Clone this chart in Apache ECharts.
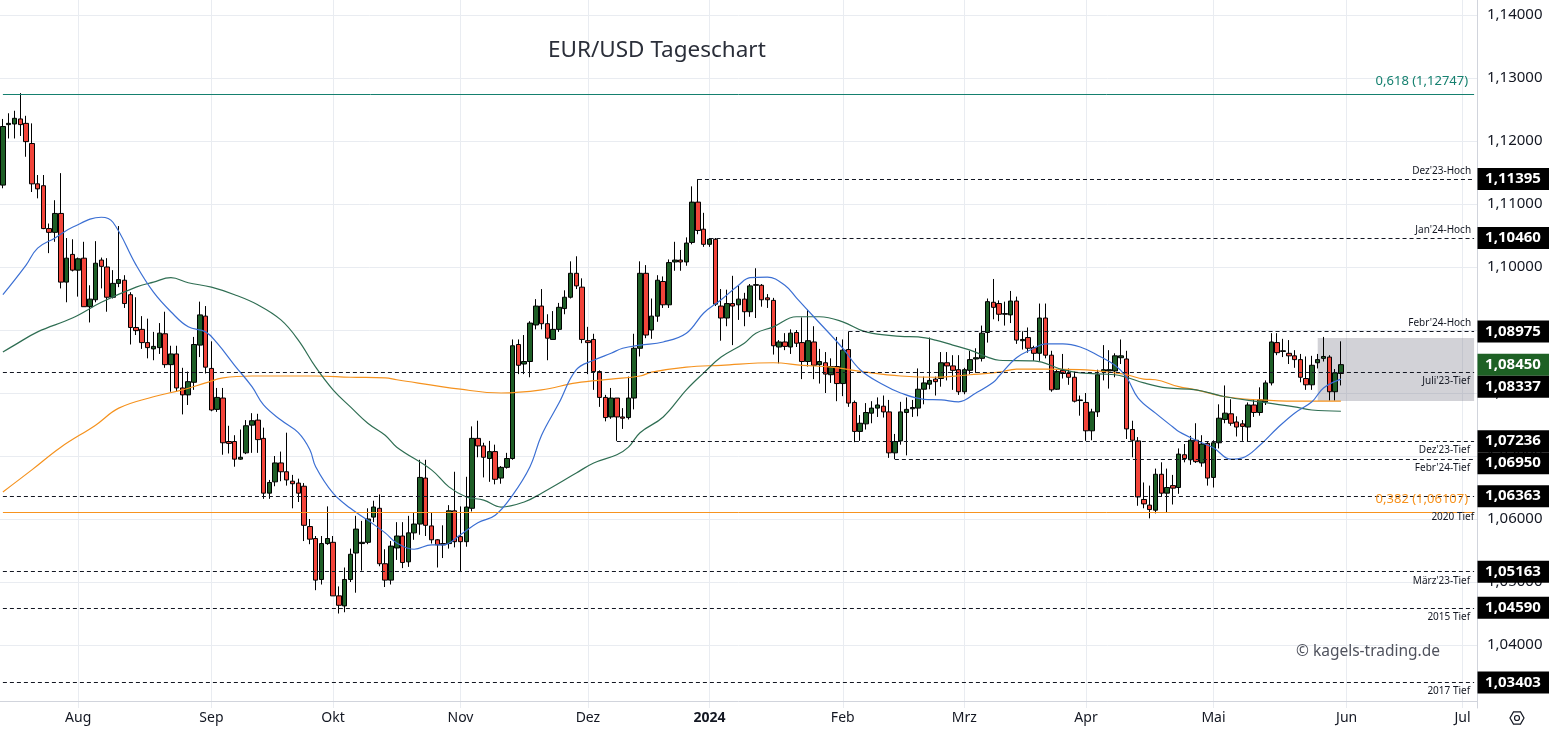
<!DOCTYPE html>
<html><head><meta charset="utf-8">
<script src="https://cdn.jsdelivr.net/npm/echarts@6/dist/echarts.min.js"></script>
<style>html,body{margin:0;padding:0;background:#fff}#c{width:1549px;height:734px}</style>
</head><body><div id="c"></div>
<script>
// ---------- DATA ----------
// [date, open, high, low, close]
const ohlc = [
['2023-07-13',1.1130,1.1235,1.1125,1.1223],['2023-07-14',1.1226,1.1244,1.1204,1.1228],['2023-07-17',1.1227,1.1248,1.1204,1.1236],
['2023-07-18',1.1235,1.1276,1.1208,1.1226],['2023-07-19',1.1228,1.1240,1.1175,1.1199],['2023-07-20',1.1196,1.1228,1.1119,1.1132],
['2023-07-21',1.1132,1.1146,1.1109,1.1124],['2023-07-24',1.1129,1.1146,1.1060,1.1061],['2023-07-25',1.1061,1.1069,1.1022,1.1055],
['2023-07-26',1.1055,1.1106,1.1040,1.1085],['2023-07-27',1.1085,1.1149,1.0966,1.0976],['2023-07-28',1.0976,1.1046,1.0944,1.1014],
['2023-07-31',1.1020,1.1044,1.0993,1.0995],['2023-08-01',1.0995,1.1015,1.0953,1.1013],['2023-08-02',1.1014,1.1040,1.0937,1.0937],
['2023-08-03',1.0937,1.0971,1.0912,1.0949],['2023-08-04',1.0948,1.1041,1.0944,1.1006],['2023-08-07',1.1011,1.1015,1.0966,1.1001],
['2023-08-08',1.1000,1.1014,1.0929,1.0952],['2023-08-09',1.0952,1.0995,1.0950,1.0974],['2023-08-10',1.0974,1.1065,1.0968,1.0980],
['2023-08-11',1.0979,1.0987,1.0935,1.0942],['2023-08-14',1.0956,1.0960,1.0877,1.0904],['2023-08-15',1.0904,1.0952,1.0892,1.0899],
['2023-08-16',1.0901,1.0922,1.0870,1.0880],['2023-08-17',1.0880,1.0918,1.0855,1.0872],['2023-08-18',1.0870,1.0897,1.0852,1.0874],
['2023-08-21',1.0872,1.0911,1.0862,1.0895],['2023-08-22',1.0894,1.0929,1.0840,1.0845],['2023-08-23',1.0845,1.0875,1.0802,1.0862],
['2023-08-24',1.0862,1.0875,1.0803,1.0808],['2023-08-25',1.0808,1.0840,1.0766,1.0797],['2023-08-28',1.0797,1.0834,1.0781,1.0818],
['2023-08-29',1.0817,1.0889,1.0805,1.0877],['2023-08-30',1.0876,1.0945,1.0857,1.0924],['2023-08-31',1.0922,1.0938,1.0831,1.0841],
['2023-09-01',1.0839,1.0882,1.0771,1.0773],['2023-09-04',1.0774,1.0808,1.0770,1.0793],['2023-09-05',1.0792,1.0808,1.0702,1.0721],
['2023-09-06',1.0723,1.0748,1.0704,1.0720],['2023-09-07',1.0723,1.0733,1.0683,1.0695],['2023-09-08',1.0695,1.0742,1.0694,1.0698],
['2023-09-11',1.0705,1.0757,1.0703,1.0748],['2023-09-12',1.0749,1.0768,1.0705,1.0756],['2023-09-13',1.0757,1.0767,1.0705,1.0726],
['2023-09-14',1.0728,1.0745,1.0632,1.0641],['2023-09-15',1.0641,1.0662,1.0632,1.0658],['2023-09-18',1.0659,1.0700,1.0652,1.0689],
['2023-09-19',1.0689,1.0707,1.0660,1.0675],['2023-09-20',1.0675,1.0737,1.0653,1.0662],['2023-09-21',1.0660,1.0670,1.0617,1.0656],
['2023-09-22',1.0657,1.0664,1.0627,1.0641],['2023-09-25',1.0652,1.0657,1.0565,1.0590],['2023-09-26',1.0588,1.0600,1.0560,1.0568],
['2023-09-27',1.0569,1.0573,1.0487,1.0503],['2023-09-28',1.0504,1.0573,1.0496,1.0561],['2023-09-29',1.0561,1.0620,1.0559,1.0569],
['2023-10-02',1.0563,1.0573,1.0478,1.0478],['2023-10-03',1.0478,1.0493,1.0450,1.0463],['2023-10-04',1.0462,1.0523,1.0452,1.0504],
['2023-10-05',1.0504,1.0553,1.0500,1.0544],['2023-10-06',1.0546,1.0605,1.0483,1.0584],['2023-10-09',1.0561,1.0597,1.0518,1.0563],
['2023-10-10',1.0563,1.0617,1.0560,1.0600],['2023-10-11',1.0603,1.0629,1.0595,1.0619],['2023-10-12',1.0617,1.0639,1.0525,1.0529],
['2023-10-13',1.0529,1.0552,1.0492,1.0503],['2023-10-16',1.0503,1.0565,1.0496,1.0557],['2023-10-17',1.0554,1.0595,1.0535,1.0573],
['2023-10-18',1.0573,1.0595,1.0522,1.0531],['2023-10-19',1.0532,1.0605,1.0524,1.0578],['2023-10-20',1.0578,1.0610,1.0567,1.0592],
['2023-10-23',1.0592,1.0694,1.0575,1.0666],['2023-10-24',1.0665,1.0694,1.0573,1.0590],['2023-10-25',1.0589,1.0610,1.0561,1.0567],
['2023-10-26',1.0567,1.0568,1.0523,1.0559],['2023-10-27',1.0561,1.0590,1.0538,1.0559],['2023-10-30',1.0561,1.0622,1.0553,1.0613],
['2023-10-31',1.0613,1.0675,1.0555,1.0564],['2023-11-01',1.0572,1.0620,1.0516,1.0564],['2023-11-02',1.0564,1.0667,1.0556,1.0619],
['2023-11-03',1.0617,1.0747,1.0612,1.0728],['2023-11-06',1.0728,1.0756,1.0698,1.0716],['2023-11-07',1.0716,1.0721,1.0666,1.0698],
['2023-11-08',1.0696,1.0724,1.0659,1.0707],['2023-11-09',1.0707,1.0718,1.0655,1.0663],['2023-11-10',1.0665,1.0684,1.0656,1.0682],
['2023-11-13',1.0682,1.0705,1.0680,1.0696],['2023-11-14',1.0696,1.0885,1.0694,1.0875],['2023-11-15',1.0877,1.0885,1.0830,1.0844],
['2023-11-16',1.0846,1.0892,1.0830,1.0850],['2023-11-17',1.0850,1.0914,1.0825,1.0911],['2023-11-20',1.0908,1.0949,1.0901,1.0938],
['2023-11-21',1.0938,1.0965,1.0901,1.0910],['2023-11-22',1.0910,1.0925,1.0852,1.0887],['2023-11-23',1.0885,1.0930,1.0885,1.0901],
['2023-11-24',1.0901,1.0943,1.0897,1.0936],['2023-11-27',1.0934,1.0963,1.0925,1.0952],['2023-11-28',1.0952,1.1009,1.0950,1.0990],
['2023-11-29',1.0990,1.1017,1.0965,1.0970],['2023-11-30',1.0968,1.0982,1.0879,1.0885],['2023-12-01',1.0883,1.0905,1.0830,1.0880],
['2023-12-04',1.0885,1.0894,1.0805,1.0834],['2023-12-05',1.0834,1.0836,1.0778,1.0793],['2023-12-06',1.0793,1.0797,1.0755,1.0761],
['2023-12-07',1.0762,1.0808,1.0759,1.0792],['2023-12-08',1.0792,1.0792,1.0724,1.0762],['2023-12-11',1.0762,1.0776,1.0743,1.0760],
['2023-12-12',1.0761,1.0826,1.0758,1.0792],['2023-12-13',1.0792,1.0894,1.0774,1.0871],['2023-12-14',1.0871,1.1009,1.0858,1.0990],
['2023-12-15',1.0990,1.1003,1.0887,1.0892],['2023-12-18',1.0900,1.0950,1.0886,1.0922],['2023-12-19',1.0922,1.0987,1.0913,1.0979],
['2023-12-20',1.0977,1.0985,1.0935,1.0940],['2023-12-21',1.0940,1.1012,1.0935,1.1007],['2023-12-22',1.1008,1.1040,1.0994,1.1011],
['2023-12-25',1.1011,1.1027,1.0994,1.1008],['2023-12-26',1.1008,1.1047,1.1002,1.1038],['2023-12-27',1.1039,1.1128,1.1036,1.1103],
['2023-12-28',1.1103,1.11395,1.1052,1.1058],['2023-12-29',1.1060,1.1086,1.1032,1.1036],['2024-01-01',1.1036,1.1046,1.1032,1.1044],
['2024-01-02',1.1044,1.1046,1.0938,1.0941],['2024-01-03',1.0938,1.0965,1.0883,1.0919],['2024-01-04',1.0919,1.0964,1.0906,1.0942],
['2024-01-05',1.0942,1.0986,1.0876,1.0938],['2024-01-08',1.0940,1.0970,1.0916,1.0949],['2024-01-09',1.0949,1.0959,1.0906,1.0929],
['2024-01-10',1.0929,1.0973,1.0921,1.0970],['2024-01-11',1.0971,1.0998,1.0919,1.0972],['2024-01-12',1.0971,1.0973,1.0937,1.0948],
['2024-01-15',1.0951,1.0957,1.0935,1.0948],['2024-01-16',1.0947,1.0951,1.0861,1.0875],['2024-01-17',1.0873,1.0884,1.0847,1.0881],
['2024-01-18',1.0881,1.0895,1.0868,1.0874],['2024-01-19',1.0873,1.0901,1.0862,1.0895],['2024-01-22',1.0896,1.0900,1.0873,1.0879],
['2024-01-23',1.0880,1.0920,1.0822,1.0850],['2024-01-24',1.0850,1.0932,1.0842,1.0883],['2024-01-25',1.0881,1.0906,1.0822,1.0844],
['2024-01-26',1.0845,1.0870,1.0815,1.0850],['2024-01-29',1.0848,1.0865,1.0800,1.0830],['2024-01-30',1.0829,1.0855,1.0816,1.0842],
['2024-01-31',1.0842,1.0889,1.0787,1.0815],['2024-02-01',1.0815,1.0885,1.0795,1.0868],['2024-02-02',1.0869,1.08975,1.0778,1.0784],
['2024-02-05',1.0785,1.0788,1.0722,1.0739],['2024-02-06',1.0739,1.0765,1.0724,1.0752],['2024-02-07',1.0751,1.0784,1.0742,1.0769],
['2024-02-08',1.0768,1.0787,1.0752,1.0776],['2024-02-09',1.0776,1.0793,1.0762,1.0781],['2024-02-12',1.0779,1.0796,1.0761,1.0770],
['2024-02-13',1.0770,1.0789,1.0697,1.0705],['2024-02-14',1.0705,1.0735,1.0695,1.0723],['2024-02-15',1.0724,1.0786,1.0718,1.0770],
['2024-02-16',1.0769,1.0793,1.0701,1.0774],['2024-02-19',1.0775,1.0789,1.0762,1.0777],['2024-02-20',1.0776,1.0839,1.0763,1.0806],
['2024-02-21',1.0806,1.0826,1.0782,1.0816],['2024-02-22',1.0814,1.0888,1.0806,1.0820],['2024-02-23',1.0822,1.0826,1.0796,1.0818],
['2024-02-26',1.0823,1.0865,1.0810,1.0848],['2024-02-27',1.0848,1.0865,1.0820,1.0843],['2024-02-28',1.0843,1.0860,1.0805,1.0836],
['2024-02-29',1.0837,1.0860,1.0797,1.0802],['2024-03-01',1.0802,1.0840,1.0798,1.0837],['2024-03-04',1.0836,1.0867,1.0830,1.0853],
['2024-03-05',1.0854,1.0871,1.0832,1.0856],['2024-03-06',1.0855,1.0907,1.0850,1.0895],['2024-03-07',1.0896,1.0950,1.0880,1.0945],
['2024-03-08',1.0944,1.0981,1.0917,1.0936],['2024-03-11',1.0942,1.0947,1.0914,1.0925],['2024-03-12',1.0925,1.0945,1.0907,1.0926],
['2024-03-13',1.0924,1.0962,1.0911,1.0946],['2024-03-14',1.0946,1.0953,1.0878,1.0884],['2024-03-15',1.0883,1.0898,1.0869,1.0885],
['2024-03-18',1.0888,1.0904,1.0864,1.0871],['2024-03-19',1.0872,1.0875,1.0851,1.0863],['2024-03-20',1.0863,1.0942,1.0851,1.0919],
['2024-03-21',1.0919,1.0942,1.0855,1.0860],['2024-03-22',1.0860,1.0867,1.0802,1.0805],['2024-03-25',1.0806,1.0837,1.0805,1.0834],
['2024-03-26',1.0836,1.0862,1.0823,1.0831],['2024-03-27',1.0831,1.0839,1.0813,1.0825],['2024-03-28',1.0825,1.0834,1.0785,1.0787],
['2024-03-29',1.0789,1.0796,1.0764,1.0788],['2024-04-01',1.0785,1.0800,1.0724,1.0740],['2024-04-02',1.0740,1.0775,1.0725,1.0770],
['2024-04-03',1.0770,1.0837,1.0762,1.0829],['2024-04-04',1.0834,1.0876,1.0820,1.0837],['2024-04-05',1.0835,1.0868,1.0807,1.0837],
['2024-04-08',1.0835,1.0863,1.0825,1.0859],['2024-04-09',1.0856,1.0885,1.0846,1.0859],['2024-04-10',1.0854,1.0867,1.0727,1.0743],
['2024-04-11',1.0742,1.0756,1.0698,1.0725],['2024-04-12',1.0724,1.0730,1.0621,1.0635],['2024-04-15',1.0631,1.0658,1.0617,1.0624],
['2024-04-16',1.0622,1.0653,1.0601,1.0615],['2024-04-17',1.0614,1.0680,1.0609,1.0671],['2024-04-18',1.0671,1.0690,1.0635,1.0641],
['2024-04-19',1.0641,1.0680,1.0610,1.0650],['2024-04-22',1.0653,1.0670,1.0623,1.0649],['2024-04-23',1.0650,1.0712,1.0640,1.0703],
['2024-04-24',1.0702,1.0719,1.0690,1.0696],['2024-04-25',1.0694,1.0732,1.0686,1.0725],['2024-04-26',1.0725,1.0752,1.0689,1.0691],
['2024-04-29',1.0689,1.0733,1.0683,1.0719],['2024-04-30',1.0720,1.0723,1.0653,1.0665],['2024-05-01',1.0666,1.0725,1.0650,1.0721],
['2024-05-02',1.0721,1.0782,1.0712,1.0760],['2024-05-03',1.0758,1.0812,1.0752,1.0768],['2024-05-06',1.0767,1.0790,1.0748,1.0752],
['2024-05-07',1.0754,1.0763,1.0731,1.0746],['2024-05-08',1.0751,1.0757,1.0724,1.0747],['2024-05-09',1.0746,1.0785,1.0723,1.0781],
['2024-05-10',1.0781,1.0790,1.0762,1.0769],['2024-05-13',1.0769,1.0809,1.0764,1.0789],['2024-05-14',1.0786,1.0820,1.0781,1.0816],
['2024-05-15',1.0816,1.0895,1.0812,1.0881],['2024-05-16',1.0880,1.0895,1.0860,1.0864],['2024-05-17',1.0866,1.0886,1.0857,1.0867],
['2024-05-20',1.0863,1.0884,1.0846,1.0859],['2024-05-21',1.0859,1.0868,1.0840,1.0853],['2024-05-22',1.0853,1.0862,1.0817,1.0825],
['2024-05-23',1.0823,1.0858,1.0805,1.0813],['2024-05-24',1.0813,1.0859,1.0805,1.0844],['2024-05-27',1.0848,1.0862,1.0839,1.0853],
['2024-05-28',1.0855,1.0889,1.0850,1.0858],['2024-05-29',1.0857,1.0860,1.0788,1.0802],['2024-05-30',1.0802,1.0838,1.0788,1.0832],
['2024-05-31',1.0831,1.0882,1.0812,1.0845]
];

// moving averages
const sma20 = [
['2023-07-13',1.0956],['2023-07-19',1.1003],['2023-07-21',1.1030],['2023-07-26',1.1046],['2023-07-31',1.1063],['2023-08-07',1.1079],
['2023-08-09',1.1071],['2023-08-15',1.1003],['2023-08-18',1.0960],['2023-08-23',1.0929],['2023-08-28',1.0905],['2023-08-31',1.0897],
['2023-09-04',1.0879],['2023-09-07',1.0844],['2023-09-12',1.0810],['2023-09-14',1.0781],['2023-09-19',1.0757],['2023-09-22',1.0737],
['2023-09-26',1.0710],['2023-09-27',1.0683],['2023-10-02',1.0641],['2023-10-05',1.0617],['2023-10-10',1.0598],['2023-10-13',1.0578],
['2023-10-17',1.0562],['2023-10-20',1.0552],['2023-10-25',1.0559],['2023-10-27',1.0559],['2023-11-01',1.0575],['2023-11-06',1.0594],
['2023-11-09',1.0606],['2023-11-14',1.0638],['2023-11-17',1.0683],['2023-11-21',1.0733],['2023-11-24',1.0784],['2023-11-29',1.0837],
['2023-12-04',1.0852],['2023-12-07',1.0863],['2023-12-11',1.0871],['2023-12-14',1.0876],['2023-12-20',1.0881],['2023-12-26',1.0895],
['2023-12-29',1.0927],['2024-01-03',1.0948],['2024-01-08',1.0971],['2024-01-10',1.0983],['2024-01-15',1.0984],['2024-01-18',1.0971],
['2024-01-22',1.0951],['2024-01-25',1.0921],['2024-02-01',1.0871],['2024-02-06',1.0837],['2024-02-12',1.0813],['2024-02-15',1.0800],
['2024-02-21',1.0790],['2024-02-26',1.0789],['2024-02-29',1.0786],['2024-03-05',1.0800],['2024-03-08',1.0817],['2024-03-11',1.0827],
['2024-03-14',1.0856],['2024-03-19',1.0871],['2024-03-21',1.0878],['2024-03-26',1.0878],['2024-03-29',1.0873],['2024-04-03',1.0860],
['2024-04-08',1.0844],['2024-04-10',1.0825],['2024-04-12',1.0792],['2024-04-17',1.0768],['2024-04-22',1.0746],['2024-04-23',1.0739],
['2024-04-26',1.0725],['2024-05-01',1.0713],['2024-05-06',1.0695],['2024-05-08',1.0697],['2024-05-13',1.0717],['2024-05-16',1.0744],
['2024-05-21',1.0768],['2024-05-24',1.0786],['2024-05-28',1.0808],['2024-05-31',1.0822]
];
const sma50 = [
['2023-07-13',1.0865],['2023-07-17',1.0876],['2023-07-21',1.0897],['2023-07-31',1.0919],['2023-08-07',1.0944],['2023-08-15',1.0968],
['2023-08-18',1.0976],['2023-08-23',1.0983],['2023-08-28',1.0975],['2023-09-01',1.0968],['2023-09-07',1.0956],['2023-09-13',1.0940],
['2023-09-19',1.0916],['2023-09-22',1.0884],['2023-09-27',1.0841],['2023-10-02',1.0805],['2023-10-05',1.0778],['2023-10-10',1.0752],
['2023-10-13',1.0733],['2023-10-17',1.0714],['2023-10-25',1.0678],['2023-10-30',1.0651],['2023-11-02',1.0635],['2023-11-07',1.0630],
['2023-11-10',1.0619],['2023-11-16',1.0627],['2023-11-21',1.0641],['2023-11-29',1.0673],['2023-12-04',1.0689],['2023-12-08',1.0702],
['2023-12-12',1.0714],['2023-12-14',1.0737],['2023-12-20',1.0762],['2023-12-26',1.0805],['2023-12-29',1.0832],['2024-01-03',1.0857],
['2024-01-09',1.0879],['2024-01-11',1.0895],['2024-01-16',1.0905],['2024-01-22',1.0921],['2024-01-26',1.0921],['2024-02-01',1.0913],
['2024-02-07',1.0897],['2024-02-15',1.0890],['2024-02-20',1.0889],['2024-02-23',1.0884],['2024-02-28',1.0876],['2024-03-04',1.0868],
['2024-03-07',1.0857],['2024-03-11',1.0852],['2024-03-19',1.0851],['2024-03-26',1.0837],['2024-03-29',1.0832],['2024-04-08',1.0829],
['2024-04-10',1.0825],['2024-04-15',1.0816],['2024-04-19',1.0808],['2024-04-26',1.0805],['2024-05-03',1.0794],['2024-05-13',1.0786],
['2024-05-21',1.0778],['2024-05-24',1.0773],['2024-05-31',1.0771]
];
const sma200 = [
['2023-07-13',1.0643],['2023-07-20',1.0678],['2023-07-27',1.0714],['2023-08-04',1.0749],['2023-08-10',1.0776],['2023-08-18',1.0794],
['2023-08-25',1.0805],['2023-08-31',1.0816],['2023-09-05',1.0824],['2023-09-12',1.0827],['2023-09-19',1.0827],['2023-09-27',1.0827],
['2023-10-05',1.0825],['2023-10-13',1.0824],['2023-10-17',1.0821],['2023-11-01',1.0806],['2023-11-10',1.0800],['2023-11-21',1.0805],
['2023-11-29',1.0816],['2023-12-07',1.0822],['2023-12-14',1.0827],['2023-12-18',1.0833],['2023-12-26',1.0841],['2024-01-03',1.0844],
['2024-01-16',1.0848],['2024-01-23',1.0844],['2024-01-30',1.0841],['2024-02-07',1.0833],['2024-02-15',1.0827],['2024-02-23',1.0825],
['2024-03-04',1.0829],['2024-03-11',1.0833],['2024-03-14',1.0838],['2024-03-21',1.0838],['2024-03-29',1.0837],['2024-04-08',1.0832],
['2024-04-10',1.0829],['2024-04-15',1.0822],['2024-04-17',1.0821],['2024-04-23',1.0810],['2024-04-26',1.0805],['2024-05-03',1.0794],
['2024-05-13',1.0789],['2024-05-21',1.0787],['2024-05-31',1.0787]
];

// horizontal support / resistance levels
const levelValues = [1.11395, 1.10460, 1.08975, 1.08337, 1.07236, 1.06950, 1.06363, 1.05163, 1.04590, 1.03403];
const levelNames  = ["Dez'23-Hoch", "Jan'24-Hoch", "Febr'24-Hoch", "Juli'23-Tief", "Dez'23-Tief", "Febr'24-Tief", "", "März'23-Tief", "2015 Tief", "2017 Tief"];
const levelFrom   = ['2023-12-28', '2024-01-01', '2024-02-02', null, '2023-12-08', '2024-02-14', null, null, null, null];
const levelBelow  = [false, false, false, true, true, true, true, true, true, true];
// fibonacci levels
const fibValues = [1.12747, 1.06107];
const fibNames  = ['0,618 (1,12747)', '0,382 (1,06107)'];
const fibNote   = ['', '2020 Tief'];
// shaded consolidation zone
const zoneFrom = '2024-05-27';
const zoneTop = 1.08873, zoneBottom = 1.07873;
const monthNames = ['2024','Feb','Mrz','Apr','Mai','Jun','Jul','Aug','Sep','Okt','Nov','Dez'];
const endDate = '2024-07-03';

// ---------- BUILD ----------
const FONT = "'Noto Sans', 'DejaVu Sans', sans-serif";
const dates = ohlc.map(r => r[0]);
(function extend(){
  let t = Date.parse(dates[dates.length-1] + 'T00:00:00Z');
  while (true) {
    t += 86400000;
    const d = new Date(t); const wd = d.getUTCDay();
    if (wd === 0 || wd === 6) continue;
    const s = d.toISOString().slice(0,10); dates.push(s);
    if (s === endDate) break;
  }
})();
const lastDate = dates[dates.length-1];
const monthStart = new Set();
for (let i = 1; i < dates.length; i++) if (dates[i].slice(5,7) !== dates[i-1].slice(5,7)) monthStart.add(i);

const fmt = v => v.toFixed(5).replace('.', ',');
const lastClose = ohlc[ohlc.length-1][4];

const mlData = [];
levelValues.forEach((v, i) => {
  mlData.push([
    { coord: [levelFrom[i] || dates[0], v],
      lineStyle: { color: '#131722', type: [4, 3], width: 1 },
      label: { show: !!levelNames[i], formatter: levelNames[i] || ' ', position: levelBelow[i] ? 'insideEndBottom' : 'insideEndTop',
               distance: levelBelow[i] ? 4 : 3, fontSize: 10, color: '#131722', fontFamily: FONT } },
    { coord: [lastDate, v] }
  ]);
});
const fibColors = ['#15806f', '#f7931e'];
fibValues.forEach((v, i) => {
  mlData.push([
    { coord: [dates[0], v], lineStyle: { color: fibColors[i], type: 'solid', width: 1 },
      label: { show: true, formatter: fibNames[i], position: 'insideEndTop', distance: 6, fontSize: 13, color: fibColors[i], fontFamily: FONT } },
    { coord: [lastDate, v] }
  ]);
  if (fibNote[i]) {
    mlData.push([
      { coord: [dates[0], v], lineStyle: { color: 'rgba(0,0,0,0)', width: 0.01 },
        label: { show: true, formatter: fibNote[i], position: 'insideEndBottom', distance: 0, fontSize: 10, color: '#131722', fontFamily: FONT } },
      { coord: [lastDate, v] }
    ]);
  }
});

const yMin = 1.03, yMax = 1.142381;
const gridColors = ['rgba(0,0,0,0)'];
for (let i = 0; i < 11; i++) gridColors.push('#e9ecf1');
gridColors.push('rgba(0,0,0,0)');

const chart = echarts.init(document.getElementById('c'), null, { renderer: 'canvas' });
const option = {
  animation: false,
  backgroundColor: '#ffffff',
  title: { text: 'EUR/USD Tageschart', left: 543, top: 34,
           textStyle: { fontSize: 22.5, fontWeight: 'normal', color: '#2a2e39', fontFamily: FONT } },
  grid: { left: -4.47, right: 72, top: 0, bottom: 26, containLabel: false },
  xAxis: {
    type: 'category', data: dates, boundaryGap: true, offset: -7,
    axisLine: { show: true, lineStyle: { color: '#d1d4dc' } },
    axisTick: { show: false },
    axisLabel: {
      interval: (i) => monthStart.has(i), margin: 10, fontSize: 14, color: '#131722', fontFamily: FONT,
      formatter: (v) => { const m = parseInt(v.slice(5,7), 10) - 1; return m === 0 ? '{b|' + v.slice(0,4) + '}' : monthNames[m]; },
      rich: { b: { fontWeight: 'bold', fontSize: 14, color: '#131722', fontFamily: FONT } }
    },
    splitLine: { show: true, interval: (i) => monthStart.has(i), alignWithLabel: true, lineStyle: { color: '#e9ecf1', width: 1 } }
  },
  yAxis: {
    type: 'value', position: 'right', min: yMin, max: yMax, interval: 0.01, scale: true,
    axisLine: { show: true, lineStyle: { color: '#d1d4dc' } },
    axisTick: { show: false },
    axisLabel: { formatter: fmt, color: '#131722', fontSize: 15, margin: 10, fontFamily: FONT, showMinLabel: false, showMaxLabel: false },
    splitLine: { show: true, lineStyle: { color: gridColors, width: 1 } }
  },
  series: [
    { type: 'line', data: [], z: 1, silent: true,
      markArea: { silent: true, itemStyle: { color: 'rgba(118,118,135,0.33)' },
        data: [[{ coord: [zoneFrom, zoneTop] }, { coord: [lastDate, zoneBottom] }]] } },
    { type: 'candlestick', name: 'EUR/USD', z: 3, barWidth: 5,
      data: ohlc.map(r => [r[1], r[4], r[3], r[2]]),
      itemStyle: { color: '#1e5e26', color0: '#f2443a', borderColor: '#000000', borderColor0: '#000000', borderWidth: 1 },
      markLine: { silent: true, symbol: ['none', 'none'], animation: false, data: mlData } },
    { type: 'line', name: 'SMA200', data: sma200, smooth: 0.4, showSymbol: false, z: 4, silent: true,
      lineStyle: { color: '#f5921e', width: 1.2 } },
    { type: 'line', name: 'SMA50', data: sma50, smooth: 0.4, showSymbol: false, z: 4, silent: true,
      lineStyle: { color: '#2f6e53', width: 1.2 } },
    { type: 'line', name: 'SMA20', data: sma20, smooth: 0.4, showSymbol: false, z: 4, silent: true,
      lineStyle: { color: '#3b6fd3', width: 1.2 } }
  ]
};
chart.setOption(option);

// right-hand price tags, placed through the y scale and pushed apart where they overlap
const tags = levelValues.map(v => ({ v, fill: '#000000' })).concat([{ v: lastClose, fill: '#1e6125' }]);
tags.forEach(t => t.y = chart.convertToPixel({ yAxisIndex: 0 }, t.v));
tags.sort((a, b) => a.y - b.y);
let prev = -1e9; const TAG_H = 22;
tags.forEach(t => { t.cy = Math.max(t.y, prev + TAG_H); prev = t.cy; });
const axisX = chart.getWidth() - 72;
const graphics = [];
tags.forEach(t => {
  graphics.push({ type: 'rect', z: 100, shape: { x: axisX + 0.5, y: t.cy - TAG_H / 2, width: chart.getWidth() - axisX, height: TAG_H }, style: { fill: t.fill } });
  graphics.push({ type: 'text', z: 101, x: axisX + 36, y: t.cy,
    style: { text: fmt(t.v), fill: '#ffffff', font: 'bold 15px ' + FONT, align: 'center', verticalAlign: 'middle', textAlign: 'center', textVerticalAlign: 'middle' } });
});
graphics.push({ type: 'text', z: 50, x: 1296, y: 652,
  style: { text: '© kagels-trading.de', fill: '#50535e', font: '15.5px ' + FONT, verticalAlign: 'middle', textVerticalAlign: 'middle' } });
// settings icon (decoration)
const hex = []; for (let i = 0; i < 6; i++) { const a = Math.PI / 3 * i; hex.push([1517 + 7 * Math.cos(a), 718 + 7 * Math.sin(a)]); }
graphics.push({ type: 'polygon', shape: { points: hex }, style: { fill: 'none', stroke: '#131722', lineWidth: 1.2 } });
graphics.push({ type: 'circle', shape: { cx: 1517, cy: 718, r: 2.5 }, style: { fill: 'none', stroke: '#131722', lineWidth: 1.2 } });
chart.setOption({ graphic: graphics });
</script>
</body></html>
